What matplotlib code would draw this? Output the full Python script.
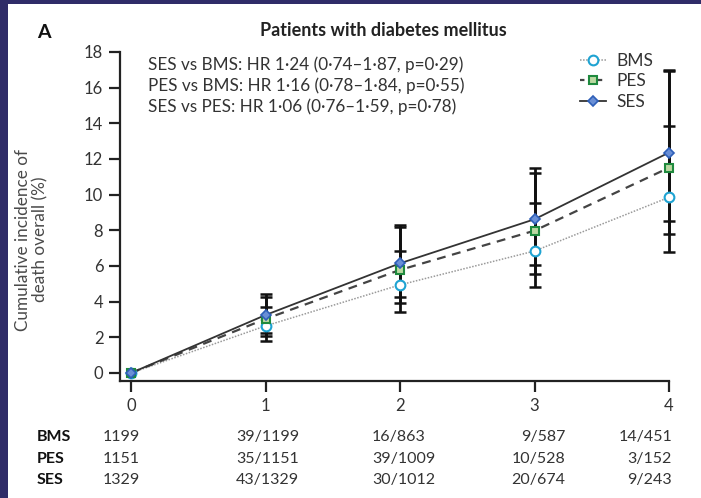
import matplotlib
matplotlib.use("Agg")
import matplotlib.pyplot as plt
from matplotlib.patches import Rectangle
from matplotlib.lines import Line2D

plt.rcParams['font.family'] = ['Lato', 'DejaVu Sans']

# Follow-up years
years = [0, 1, 2, 3, 4]

# Cumulative incidence of death (%) per stent group
bms = [0, 2.64, 4.94, 6.84, 9.85]
pes = [0, 3.03, 5.78, 7.98, 11.51]
ses = [0, 3.25, 6.15, 8.62, 12.36]

# 95% confidence limits (years 1-4)
bms_lo = [1.80, 3.44, 4.84, 6.80]
bms_hi = [3.72, 6.86, 9.52, 13.85]
pes_lo = [2.05, 3.94, 5.55, 7.78]
pes_hi = [4.28, 8.17, 11.20, 16.95]
ses_lo = [2.25, 4.25, 6.06, 8.52]
ses_hi = [4.43, 8.30, 11.48, 17.00]

hr_lines = [
    "SES vs BMS: HR 1·24 (0·74–1·87, p=0·29)",
    "PES vs BMS: HR 1·16 (0·78–1·84, p=0·55)",
    "SES vs PES: HR 1·06 (0·76–1·59, p=0·78)",
]

# Events / patients at risk table
groups = ["BMS", "PES", "SES"]
risk_table = {
    "BMS": ["1199", "39/1199", "16/863", "9/587", "14/451"],
    "PES": ["1151", "35/1151", "39/1009", "10/528", "3/152"],
    "SES": ["1329", "43/1329", "30/1012", "20/674", "9/243"],
}

W, H = 701, 498
fig = plt.figure(figsize=(W / 100, H / 100), dpi=100)
fig.patch.set_facecolor("#2f2c68")
fig.patches.append(Rectangle((8 / W, 0), 2, (H - 4) / H, transform=fig.transFigure,
                             facecolor="white", edgecolor="none", zorder=-1))

ax = fig.add_axes([120 / W, 1 - 381 / H, (669 - 120) / W, (381 - 52) / H])
ax.set_zorder(2)
ax.set_facecolor("none")

axis_col = "#222222"
ax.plot(years, bms, color="#9a9a9a", lw=1.1, ls=(0, (1, 1)), zorder=2)
ax.plot(years, pes, color="#444444", lw=1.6, ls=(0, (4, 3)), zorder=2)
ax.plot(years, ses, color="#333333", lw=1.3, ls="-", zorder=2)

yrs_ci = years[1:]
for vals, lo, hi in [(bms, bms_lo, bms_hi), (pes, pes_lo, pes_hi), (ses, ses_lo, ses_hi)]:
    v = vals[1:]
    ax.errorbar(yrs_ci, v, yerr=[[a - b for a, b in zip(v, lo)], [b - a for a, b in zip(v, hi)]],
                fmt="none", ecolor="#111111", elinewidth=2.0, capsize=4.5, capthick=1.8,
                zorder=3, clip_on=False)

mk_bms = dict(marker="o", ms=7, mfc="white", mec="#1ea3d2", mew=1.5)
mk_pes = dict(marker="s", ms=6, mfc="#bcd9a2", mec="#1f8a3e", mew=1.5)
mk_ses = dict(marker="D", ms=5.5, mfc="#6a8fd6", mec="#2e5fb8", mew=1.2)
ax.plot(years, bms, ls="none", zorder=4, clip_on=False, **mk_bms)
ax.plot(years, pes, ls="none", zorder=5, clip_on=False, **mk_pes)
ax.plot(years, ses, ls="none", zorder=6, clip_on=False, **mk_ses)

ax.set_xlim(-0.082, 4)
ax.set_ylim(-0.45, 18)
ax.set_xticks(years)
ax.set_yticks(range(0, 19, 2))
for s in ["top", "right"]:
    ax.spines[s].set_visible(False)
for s in ["left", "bottom"]:
    ax.spines[s].set_color(axis_col)
    ax.spines[s].set_linewidth(1.6)
ax.tick_params(axis="both", colors=axis_col, width=1.6, length=8, labelsize=12,
               labelcolor="#333333", pad=4)

ax.set_ylabel("Cumulative incidence of\ndeath overall (%)", fontsize=12.3, color="#4a4a4a",
              linespacing=1.15)
ax.yaxis.set_label_coords(-0.13, 0.43)

for i, t in enumerate(hr_lines):
    fig.text(148 / W, 1 - (65 + 21 * i) / H, t, fontsize=12.3, color="#333333",
             va="center", ha="left")

handles = [
    Line2D([], [], color="#9a9a9a", lw=1.1, ls=(0, (1, 1)), **mk_bms),
    Line2D([], [], color="#444444", lw=1.6, ls=(0, (2, 2)), **mk_pes),
    Line2D([], [], color="#333333", lw=1.3, **mk_ses),
]
fig.legend(handles, groups, loc="upper left", bbox_to_anchor=(580 / W, 1 - 53 / H),
           frameon=False, fontsize=12.5, handlelength=1.5, handletextpad=0.6,
           labelspacing=0.25, labelcolor="#333333", borderaxespad=0, borderpad=0)

fig.text(37 / W, 1 - 32 / H, "A", fontsize=14, fontweight="bold", color="#111111",
         va="center", ha="left")
fig.text(383 / W, 1 - 31 / H, "Patients with diabetes mellitus", fontsize=13,
         fontweight="bold", color="#222222", va="center", ha="center")

col_x = [103, 236, 372, 565, 672]
col_ha = ["left", "left", "left", "right", "right"]
for r, g in enumerate(groups):
    y = 1 - (437 + 21.5 * r) / H
    fig.text(37 / W, y, g, fontsize=11.5, fontweight="bold", color="#111111",
             va="center", ha="left")
    for c, txt in enumerate(risk_table[g]):
        fig.text(col_x[c] / W, y, txt, fontsize=11.5, color="#333333",
                 va="center", ha=col_ha[c])

fig.savefig("out.png", dpi=100, facecolor=fig.get_facecolor())
